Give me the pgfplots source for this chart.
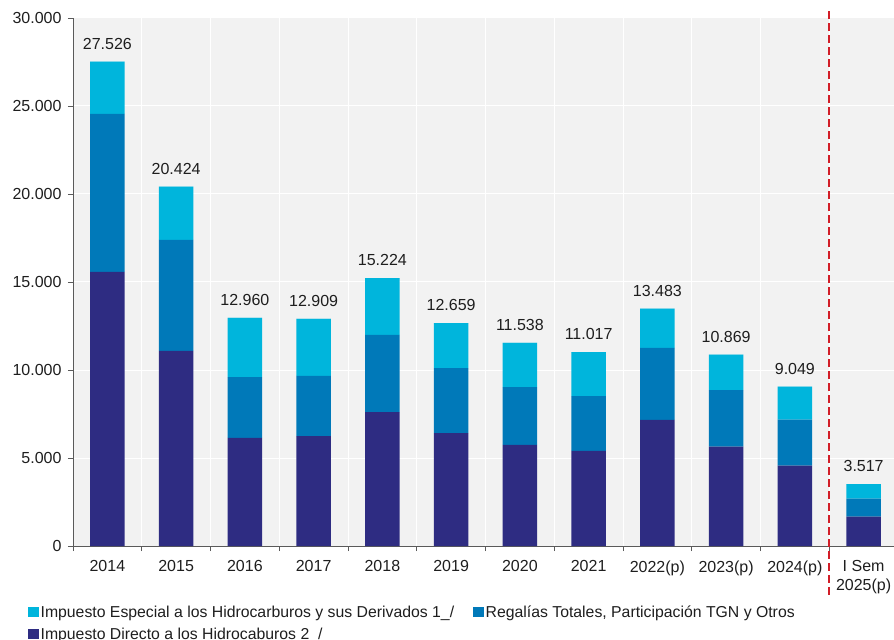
\documentclass[border=0pt]{standalone}
\usepackage{fontspec}
\setmainfont{Liberation Sans}
\usepackage{pgfplots}
\usepackage{pgfplotstable}
\pgfplotsset{compat=1.18}
\definecolor{cLight}{RGB}{0,181,220}
\definecolor{cMid}{RGB}{0,121,185}
\definecolor{cDark}{RGB}{46,44,130}
\definecolor{cBg}{RGB}{242,242,242}
\definecolor{lineRed}{RGB}{210,30,40}
\definecolor{cAxis}{RGB}{90,90,90}
\definecolor{cText}{RGB}{30,30,30}
\pgfplotstableread{
x a b c z total
0 15570 8980 2976 1 27526
1 11080 6310 3034 1 20424
2 6140 3460 3360 1 12960
3 6250 3410 3249 1 12909
4 7610 4380 3234 1 15224
5 6420 3690 2549 1 12659
6 5740 3290 2508 1 11538
7 5400 3120 2497 1 11017
8 7160 4090 2233 1 13483
9 5640 3220 2009 1 10869
10 4560 2620 1869 1 9049
11 1670 1020 827 1 3517
}\data
\begin{document}
\begin{tikzpicture}
\begin{axis}[
  at={(0,0)}, anchor=south west,
  scale only axis, width=825bp, height=528bp,
  ybar stacked, bar width=0.5,
  xmin=-0.5, xmax=11.5, ymin=0, ymax=30000,
  ytick={0,5000,...,30000},
  scaled y ticks=false,
  /pgf/number format/assume math mode=true,
  y tick label style={/pgf/number format/fixed, /pgf/number format/1000 sep={.}, xshift=-3bp},
  xtick={-0.5,0.5,...,11.5},
  xticklabels={,,,,,,,,,,,,,},
  extra x ticks={0,1,...,11},
  extra x tick labels={2014,2015,2016,2017,2018,2019,2020,2021,2022(p),2023(p),2024(p),{I Sem\\2025(p)}},
  extra x tick style={major tick length=0pt, grid=none},
  xticklabel style={align=center, yshift=-11bp},
  tick label style={font=\fontsize{16bp}{19bp}\selectfont, text=cText},
  xmajorgrids, ymajorgrids,
  grid style={white, line width=1bp},
  axis background/.style={fill=cBg},
  axis x line*=bottom, axis y line*=left,
  axis line style={draw=cAxis, line width=0.8bp},
  tick align=outside, major tick length=5bp,
  tick style={draw=cAxis, line width=0.8bp},
  clip=false,
  legend columns=2,
  legend cell align=left,
  legend style={at={(-0.0545,-0.1087)}, anchor=north west, draw=none, fill=none,
    font=\fontsize{15.8bp}{19bp}\selectfont, text=cText,
    /tikz/every even column/.append style={column sep=17bp},
    row sep=5bp, inner sep=0pt},
]
\addplot+[fill=cDark, draw=none, forget plot] table[x=x, y=a] {\data};
\addplot+[fill=cMid, draw=none, forget plot] table[x=x, y=b] {\data};
\addplot+[fill=cLight, draw=none, forget plot] table[x=x, y=c] {\data};
\addplot+[fill=cLight, draw=none, forget plot,
  nodes near coords={\pgfmathprintnumber[fixed,precision=0,1000 sep={.}]{\pgfplotspointmeta}},
  point meta=explicit,
  every node near coord/.append style={font=\fontsize{16bp}{19bp}\selectfont, text=cText, anchor=south, inner sep=0pt, yshift=12bp}
] table[x=x, y=z, meta=total] {\data};
\addlegendimage{legend image code/.code={\fill[cLight] (0bp,-4.5bp) rectangle (10bp,4.5bp);}}
\addlegendentry{Impuesto Especial a los Hidrocarburos y sus Derivados 1\_/}
\addlegendimage{legend image code/.code={\fill[cMid] (0bp,-4.5bp) rectangle (10bp,4.5bp);}}
\addlegendentry{Regalías Totales, Participación TGN y Otros}
\addlegendimage{legend image code/.code={\fill[cDark] (0bp,-4.5bp) rectangle (10bp,4.5bp);}}
\addlegendentry{Impuesto Directo a los Hidrocaburos 2\_/}
\draw[draw=lineRed, line width=2bp, dash pattern=on 8bp off 4bp] (axis cs:10.5,-2780) -- (axis cs:10.5,30570);
\end{axis}
\pgfresetboundingbox
\path[use as bounding box] (-73bp,-94bp) rectangle (821bp,546bp);
\end{tikzpicture}
\end{document}
